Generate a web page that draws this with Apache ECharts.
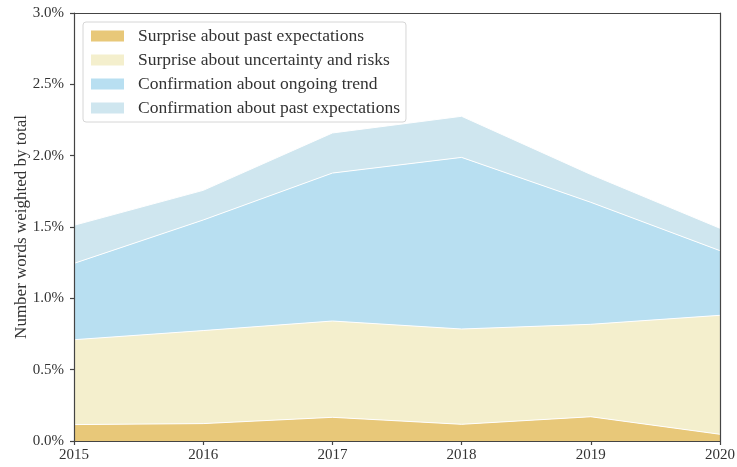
<!DOCTYPE html>
<html>
<head>
<meta charset="utf-8">
<script src="https://cdn.jsdelivr.net/npm/echarts@6/dist/echarts.min.js"></script>
<style>
  html, body { margin: 0; padding: 0; background: #fff; }
  #chart { width: 737px; height: 467px; }
</style>
</head>
<body>
<div id="chart"></div>
<script>
// Years on the x axis
const years = ['2015', '2016', '2017', '2018', '2019', '2020'];

// Share of words (in %) for each category, stacked in this order
const surprisePast = [0.115, 0.122, 0.166, 0.117, 0.170, 0.047];
const surpriseRisk = [0.595, 0.652, 0.675, 0.668, 0.648, 0.834];
const confirmTrend = [0.535, 0.775, 1.037, 1.203, 0.855, 0.453];
const confirmPast  = [0.267, 0.208, 0.281, 0.288, 0.195, 0.157];

const seriesNames = [
  'Surprise about past expectations',
  'Surprise about uncertainty and risks',
  'Confirmation about ongoing trend',
  'Confirmation about past expectations'
];
const seriesColors = ['#e8c879', '#f4efcd', '#b8dff1', '#cfe6ef'];
const seriesValues = [surprisePast, surpriseRisk, confirmTrend, confirmPast];

const FONT = '"Liberation Serif", "DejaVu Serif", serif';
const TEXT = '#333';
const SPINE = { color: '#444', width: 1.2 };

const chart = echarts.init(document.getElementById('chart'), null, { renderer: 'canvas' });

chart.setOption({
  animation: false,
  backgroundColor: '#fff',
  grid: {
    left: 74, right: 17, top: 13, bottom: 26,
    outerBoundsMode: 'none',
    containLabel: false
  },
  legend: {
    orient: 'vertical',
    left: 83, top: 22,
    z: 10,
    padding: [5, 6, 5, 8],
    itemWidth: 33, itemHeight: 11,
    itemGap: 6,
    icon: 'rect',
    backgroundColor: 'rgba(255,255,255,0.85)',
    borderColor: '#d6d6d6', borderWidth: 1, borderRadius: 3,
    textStyle: { fontFamily: FONT, fontSize: 17.5, color: TEXT, padding: [0, 0, 0, 9] },
    data: seriesNames.map((n, i) => ({
      name: n,
      itemStyle: { color: seriesColors[i], borderWidth: 0 }
    }))
  },
  xAxis: [
    {
      type: 'category',
      data: years,
      boundaryGap: false,
      z: 5,
      axisLine: { show: true, onZero: false, lineStyle: SPINE },
      axisTick: { show: true, length: 4, alignWithLabel: true, lineStyle: SPINE },
      splitLine: { show: false },
      axisLabel: { fontFamily: FONT, fontSize: 15, color: TEXT, margin: 7 }
    },
    {
      // top frame line
      type: 'category',
      data: years,
      boundaryGap: false,
      position: 'top',
      z: 5,
      axisLine: { show: true, onZero: false, lineStyle: SPINE },
      axisTick: { show: false },
      axisLabel: { show: false },
      splitLine: { show: false }
    }
  ],
  yAxis: [
    {
      type: 'value',
      min: 0, max: 3, interval: 0.5,
      z: 5,
      name: 'Number words weighted by total',
      nameLocation: 'middle',
      nameGap: 44,
      nameMoveOverlap: false,
      nameTextStyle: { fontFamily: FONT, fontSize: 17, color: TEXT },
      axisLine: { show: true, onZero: false, lineStyle: SPINE },
      axisTick: { show: true, length: 4, lineStyle: SPINE },
      splitLine: { show: false },
      axisLabel: {
        fontFamily: FONT, fontSize: 15, color: TEXT, margin: 10,
        formatter: v => v.toFixed(1) + '%'
      }
    },
    {
      // right frame line
      type: 'value',
      min: 0, max: 3, interval: 0.5,
      position: 'right',
      z: 5,
      axisLine: { show: true, onZero: false, lineStyle: SPINE },
      axisTick: { show: false },
      axisLabel: { show: false },
      splitLine: { show: false }
    }
  ],
  series: seriesNames.map((n, i) => ({
    name: n,
    type: 'line',
    stack: 'total',
    symbol: 'none',
    z: 2,
    itemStyle: { color: seriesColors[i] },
    lineStyle: { color: '#fff', width: 1 },
    areaStyle: { color: seriesColors[i], opacity: 1 },
    data: seriesValues[i]
  }))
});
</script>
</body>
</html>
